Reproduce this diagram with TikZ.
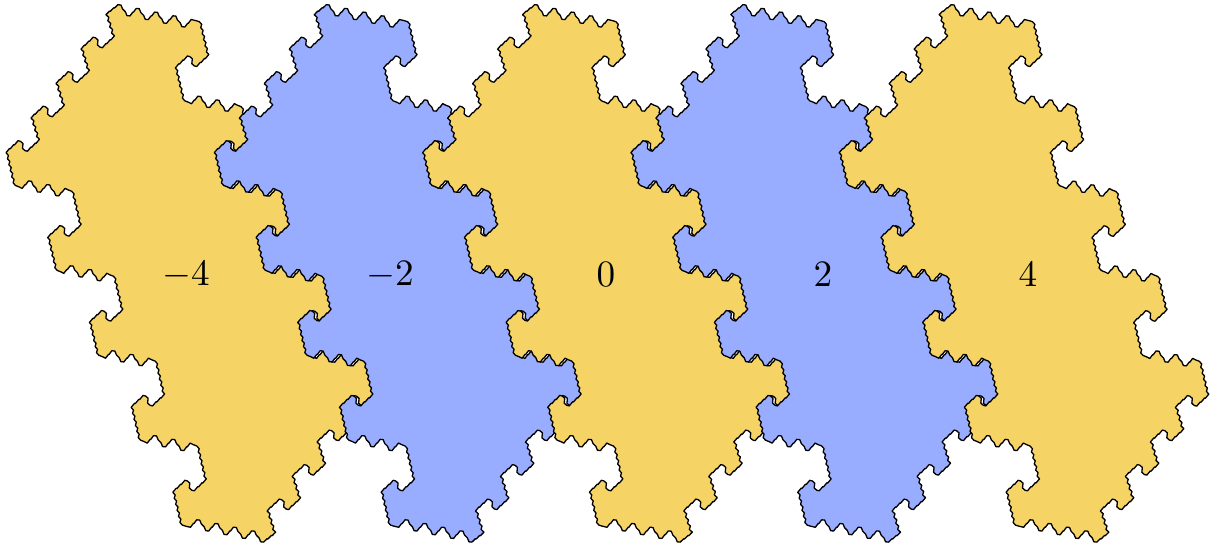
\documentclass[tikz,border=0pt]{standalone}
\usepackage{xcolor}
\usepackage{amsmath}
\definecolor{tileyellow}{RGB}{245, 211, 101}
\definecolor{tileblue}{RGB}{152, 173, 255}
% small pieces of the rim, #1 is the direction (1 or -1)
\newcommand{\rimdee}[1]{-- ++(#1*3.5,#1*-4.2) -- ++(#1*0.75,#1*0.3) -- ++(#1*3.5,#1*-4.2) -- ++(#1*0.75,#1*0.3) -- ++(#1*3.5,#1*-4.2)}
\newcommand{\rimtip}[1]{-- ++(#1*3.5,#1*-3.6) -- ++(#1*0.75,#1*0.3) -- ++(#1*3.5,#1*-3.6) -- ++(#1*0.75,#1*0.3) -- ++(#1*3.5,#1*-3.4)}
\newcommand{\rimhook}[1]{-- ++(#1*2.5,#1*0.6) -- ++(#1*2.5,#1*2.2) -- ++(#1*-0.5,#1*4.9) -- ++(#1*2.5,#1*2.2) -- ++(#1*2.5,#1*0.6)}
\newcommand{\rimknob}[1]{\rimdee{#1} \rimhook{#1} \rimdee{#1}}
\newcommand{\rimlong}[1]{-- ++(#1*2.4,#1*2.7) -- ++(#1*-0.98,#1*3.32) -- ++(#1*2.4,#1*2.7) -- ++(#1*-0.98,#1*3.32) -- ++(#1*2.4,#1*2.7) -- ++(#1*-0.98,#1*3.32) -- ++(#1*2.4,#1*2.7) -- ++(#1*-0.98,#1*3.32) -- ++(#1*2.4,#1*2.7) -- ++(#1*-0.98,#1*3.32) -- ++(#1*2.4,#1*2.7)}
\newcommand{\rimshort}[1]{-- ++(#1*2.9,#1*2.7) -- ++(#1*-1.03,#1*3.4) -- ++(#1*2.9,#1*2.7) -- ++(#1*-1.03,#1*3.4) -- ++(#1*2.9,#1*2.7) -- ++(#1*-1.03,#1*3.4) -- ++(#1*2.9,#1*2.7)}
\newcommand{\rimrise}[1]{-- ++(#1*2.9,#1*-3.85) -- ++(#1*0.5,#1*0.2) -- ++(#1*2.9,#1*-3.85)}
\newcommand{\rimfall}[1]{-- ++(#1*3,#1*0.3) -- ++(#1*1.6,#1*3.9) -- ++(#1*2.8,#1*2.8) -- ++(#1*1.6,#1*3.9) -- ++(#1*3,#1*0.3)}
\newcommand{\rimend}[1]{-- ++(#1*3.6,#1*1.4) -- ++(#1*3.05,#1*1.55)}
\newcommand{\rimthree}[1]{\rimend{#1} \rimrise{#1} \rimfall{#1} \rimrise{#1} \rimfall{#1} \rimrise{#1} -- ++(#1*3.05,#1*1.55) -- ++(#1*3.6,#1*1.4)}
\newcommand{\rimstep}[1]{\rimknob{#1} \rimshort{-#1}}
\newcommand{\rimrun}[1]{\rimlong{#1} \rimthree{#1} \rimlong{#1}}
% half of the rim, the other half is the same turned round
\newcommand{\halfrim}[1]{\rimstep{#1} \rimstep{#1} \rimstep{#1} \rimstep{#1} \rimtip{#1}
	\rimfall{#1} \rimrise{#1} \rimfall{#1} \rimrise{#1} \rimfall{#1} \rimrise{#1} \rimfall{#1} \rimrise{#1} -- ++(#1*5,#1*1.2) -- ++(#1*3.15,#1*1)
	\rimlong{#1} \rimknob{-#1}
	\rimrun{#1} \rimknob{-#1} \rimrun{#1} \rimknob{-#1} \rimrun{#1} \rimknob{-#1} \rimrun{#1}}

\begin{document}
\begin{tikzpicture}[
		x=0.5pt, y=-0.5pt,
		tile/.style={draw=black, line width=0.65pt, line join=round},
		tilelabel/.style={scale=1.86, inner sep=0pt}
	]
	\useasboundingbox (0,0) rectangle (1213,546);
	\foreach \tx/\tilecol in {0/tileyellow, 208.3/tileblue, 416.6/tileyellow, 624.9/tileblue, 833.2/tileyellow}{
		\draw[tile, fill=\tilecol] (6+\tx,152.7) \halfrim{1} \halfrim{-1} -- cycle;
	}
	\node[tilelabel] (minusfour) at (186,275) {$-4$};
	\node[tilelabel] (minustwo) at (390,275) {$-2$};
	\node[tilelabel] (zero) at (606,275) {$0$};
	\node[tilelabel] (two) at (823,275) {$2$};
	\node[tilelabel] (four) at (1028,275) {$4$};
\end{tikzpicture}
\end{document}
